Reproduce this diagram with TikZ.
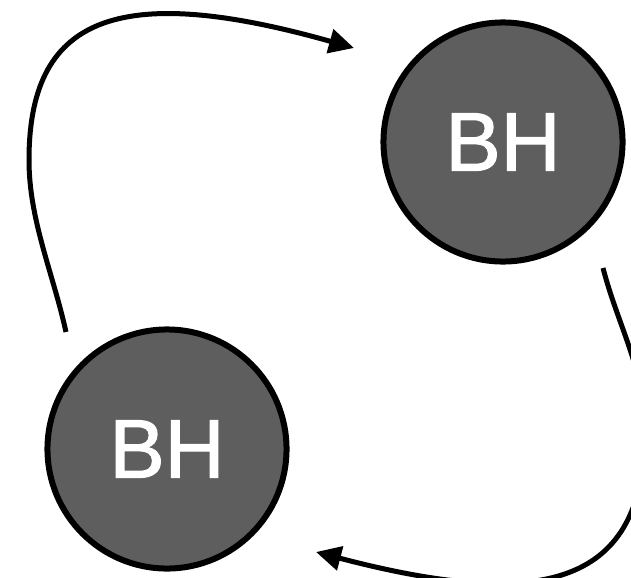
\documentclass[tikz,border=0pt]{standalone}
\usepackage{fontspec}
\setmainfont{Liberation Sans}
\newfontfamily\bhfont[FakeBold=1.5]{Liberation Sans}
\usetikzlibrary{arrows.meta}
\definecolor{holegray}{HTML}{5E5E5E}

\begin{document}
\begin{tikzpicture}[
    x=0.025cm, y=-0.025cm,
    blackhole/.style={
      circle,
      draw=black,
      fill=holegray,
      line width=0.15cm,
      minimum size=5.975cm,
      inner sep=0pt,
      text=white,
      font=\bhfont\fontsize{59}{59}\selectfont
    },
    orbit/.style={-{Triangle[length=6.25mm, width=6mm]}, line width=0.125cm}
  ]
    \useasboundingbox (0,0) rectangle (631,578);

    \node[blackhole] (upper) at (503,142) {BH};
    \node[blackhole] (lower) at (167,449) {BH};

    \coordinate (upstart) at (66,332);
    \coordinate (upend) at (354,48);
    \coordinate (downstart) at (603,268);
    \coordinate (downend) at (316,552);

    \draw[orbit] (upstart) .. controls (53,273) and (29,220) .. (29,160)
      .. controls (29,20) and (113,-20) .. (upend);
    \draw[orbit] (downstart) .. controls (618,326) and (645,370) .. (645,430)
      .. controls (645,585) and (545,612) .. (downend);
\end{tikzpicture}
\end{document}
